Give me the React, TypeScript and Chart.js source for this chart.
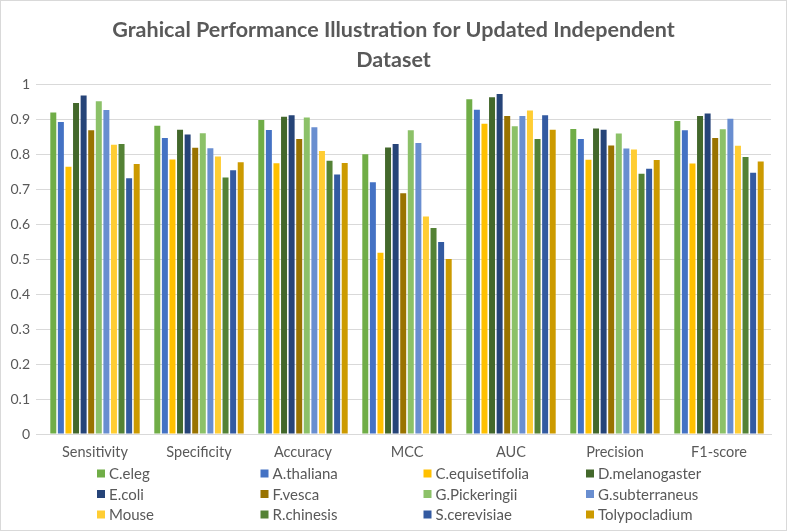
import { useEffect, useRef } from "react";
import { Chart, registerables } from "chart.js";
Chart.register(...registerables);

const categories = ["Sensitivity", "Specificity", "Accuracy", "MCC", "AUC", "Precision", "F1-score"];
const yTickValues = [0, 0.1, 0.2, 0.3, 0.4, 0.5, 0.6, 0.7, 0.8, 0.9, 1];

const cEleg = [0.919, 0.881, 0.898, 0.800, 0.957, 0.872, 0.895];
const aThaliana = [0.892, 0.846, 0.869, 0.720, 0.927, 0.843, 0.868];
const cEquisetifolia = [0.764, 0.785, 0.774, 0.518, 0.887, 0.784, 0.773];
const dMelanogaster = [0.946, 0.870, 0.907, 0.819, 0.963, 0.873, 0.909];
const eColi = [0.968, 0.856, 0.911, 0.829, 0.972, 0.870, 0.916];
const fVesca = [0.868, 0.818, 0.843, 0.688, 0.909, 0.825, 0.846];
const gPickeringii = [0.951, 0.860, 0.905, 0.868, 0.880, 0.859, 0.871];
const gSubterraneus = [0.926, 0.817, 0.877, 0.832, 0.909, 0.816, 0.901];
const mouse = [0.827, 0.793, 0.809, 0.622, 0.925, 0.813, 0.824];
const rChinesis = [0.829, 0.733, 0.781, 0.589, 0.843, 0.744, 0.792];
const sCerevisiae = [0.731, 0.754, 0.742, 0.549, 0.911, 0.758, 0.747];
const tolypocladium = [0.772, 0.777, 0.775, 0.500, 0.870, 0.783, 0.779];

const seriesNames = [
  "C.eleg", "A.thaliana", "C.equisetifolia", "D.melanogaster",
  "E.coli", "F.vesca", "G.Pickeringii", "G.subterraneus",
  "Mouse", "R.chinesis", "S.cerevisiae", "Tolypocladium",
];
const seriesValues = [
  cEleg, aThaliana, cEquisetifolia, dMelanogaster,
  eColi, fVesca, gPickeringii, gSubterraneus,
  mouse, rChinesis, sCerevisiae, tolypocladium,
];
const seriesColors = [
  "#70AD47", "#4472C4", "#FFC000", "#43682B",
  "#264478", "#997300", "#8CC168", "#698ED0",
  "#FFCD33", "#548235", "#335AA1", "#CC9A00",
];

const TEXT = "#595959";
const GRID = "#D9D9D9";
const FONT = "Lato, 'Open Sans', sans-serif";

const frameAndLegend = {
  id: "frameAndLegend",
  afterLayout(chart: any) {
    const t = chart.titleBlock;
    if (t) {
      t.left = 0;
      t.right = chart.width;
      t.width = chart.width;
    }
  },
  beforeDraw(chart: any) {
    const ctx = chart.ctx;
    ctx.save();
    ctx.fillStyle = "#ffffff";
    ctx.fillRect(0, 0, chart.width, chart.height);
    ctx.restore();
  },
  afterDraw(chart: any) {
    const ctx = chart.ctx;
    ctx.save();
    ctx.strokeStyle = GRID;
    ctx.lineWidth = 1;
    ctx.strokeRect(0.5, 0.5, chart.width - 1, chart.height - 1);
    const cols = [97, 260.5, 423.5, 586];
    const rows = [473.5, 494, 514.5];
    ctx.font = "15px " + FONT;
    ctx.textBaseline = "middle";
    ctx.textAlign = "left";
    chart.data.datasets.forEach((ds: any, i: number) => {
      const x = cols[i % 4];
      const y = rows[Math.floor(i / 4)];
      ctx.fillStyle = ds.backgroundColor;
      ctx.fillRect(x, y - 4, 8, 8);
      ctx.fillStyle = TEXT;
      ctx.fillText(ds.label, x + 12, y + 1);
    });
    ctx.restore();
  },
};

export default function App() {
  const ref = useRef<HTMLCanvasElement>(null);
  useEffect(() => {
    if (!ref.current) return;
    const chart = new Chart(ref.current, {
      type: "bar",
      data: {
        labels: categories,
        datasets: seriesNames.map((name, i) => ({
          label: name,
          data: seriesValues[i],
          backgroundColor: seriesColors[i],
          borderWidth: 0,
          categoryPercentage: 0.875,
          barPercentage: 0.79,
        })),
      },
      options: {
        animation: false,
        responsive: true,
        maintainAspectRatio: false,
        layout: { padding: { left: 0, right: 16, top: 0, bottom: 0 } },
        plugins: {
          legend: { display: false },
          tooltip: { enabled: false },
          title: {
            display: true,
            text: ["Grahical Performance Illustration for Updated Independent", "Dataset"],
            color: TEXT,
            font: { family: FONT, size: 21.5, weight: "bold", lineHeight: 1.4 },
            padding: { top: 15, bottom: 9 },
          },
        },
        scales: {
          x: {
            grid: { display: false, drawTicks: false },
            border: { display: true, color: GRID, width: 1 },
            ticks: { color: TEXT, font: { family: FONT, size: 14.5 }, padding: 10 },
            afterFit: (s: any) => { s.height = 97; },
          },
          y: {
            min: 0,
            max: 1,
            afterBuildTicks: (s: any) => { s.ticks = yTickValues.map((v) => ({ value: v })); },
            grid: { color: GRID, tickLength: 7, drawTicks: true },
            border: { display: false },
            ticks: {
              color: TEXT,
              font: { family: FONT, size: 14 },
              padding: 6,
              callback: (v: any) => String(Math.round(Number(v) * 10) / 10),
            },
            afterFit: (s: any) => { s.width = 43; },
          },
        },
      },
      plugins: [frameAndLegend],
    });
    return () => chart.destroy();
  }, []);
  return (
    <div style={{ position: "absolute", left: 0, top: 0, width: 787, height: 531 }}>
      <canvas ref={ref} />
    </div>
  );
}
